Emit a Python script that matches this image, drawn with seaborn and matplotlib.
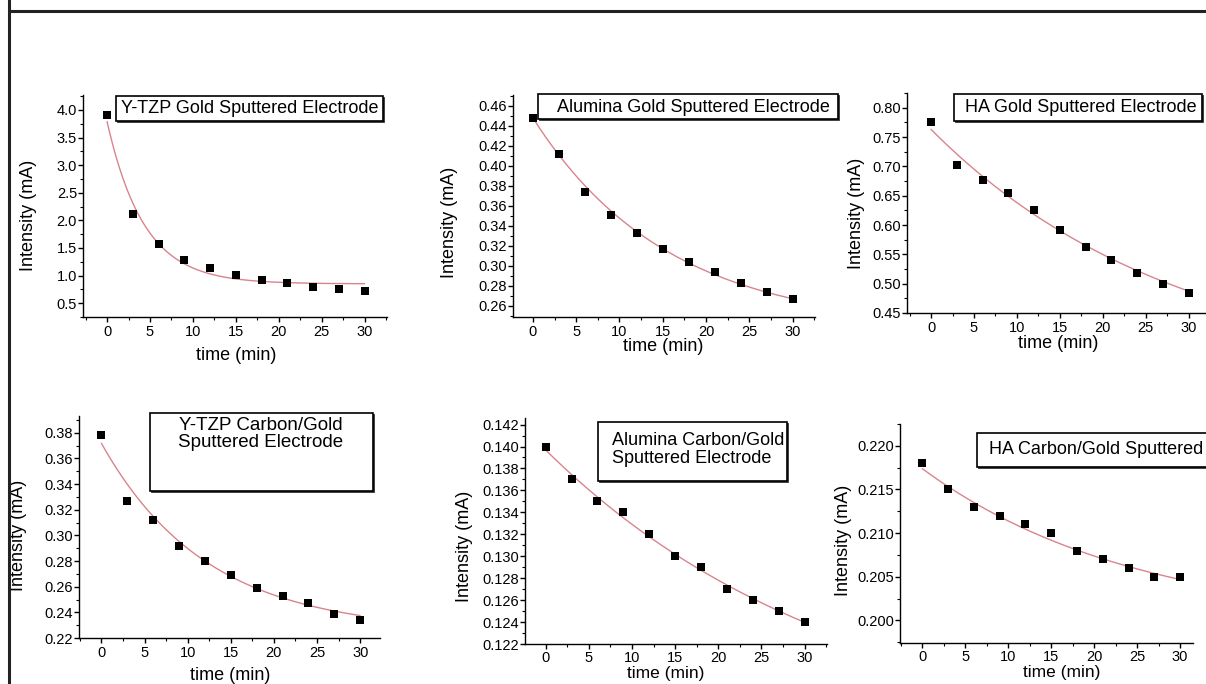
import numpy as np
import pandas as pd
import matplotlib
matplotlib.use("Agg")
import matplotlib.pyplot as plt
import seaborn as sns
from matplotlib.ticker import AutoMinorLocator, FormatStrFormatter
from matplotlib.patches import Rectangle
from matplotlib.lines import Line2D

# ---------------- data ----------------
time_min = [0, 3, 6, 9, 12, 15, 18, 21, 24, 27, 30]

ytzp_gold = [3.90, 2.12, 1.57, 1.28, 1.13, 1.01, 0.92, 0.86, 0.80, 0.76, 0.72]
alumina_gold = [0.448, 0.412, 0.374, 0.351, 0.333, 0.317, 0.304, 0.294, 0.283, 0.274, 0.267]
ha_gold = [0.776, 0.702, 0.677, 0.655, 0.626, 0.591, 0.563, 0.541, 0.519, 0.500, 0.484]
ytzp_carbon_gold = [0.378, 0.327, 0.312, 0.292, 0.280, 0.269, 0.259, 0.253, 0.247, 0.239, 0.234]
alumina_carbon_gold = [0.140, 0.137, 0.135, 0.134, 0.132, 0.130, 0.129, 0.127, 0.126, 0.125, 0.124]
ha_carbon_gold = [0.218, 0.215, 0.213, 0.212, 0.211, 0.210, 0.208, 0.207, 0.206, 0.205, 0.205]

# exponential-decay fit curves y = y0 + A*exp(-t/t1), parameters
fit_y0 = [0.85, 0.236, 0.336, 0.2248, 0.1123, 0.1992]
fit_A = [2.94, 0.212, 0.427, 0.1469, 0.02738, 0.01818]
fit_t1 = [4.3, 15.6, 28.9, 12.25, 35.2, 25.0]

panel_titles = [
    "Y-TZP Gold Sputtered Electrode",
    "Alumina Gold Sputtered Electrode",
    "HA Gold Sputtered Electrode",
    "Y-TZP Carbon/Gold\nSputtered Electrode",
    "Alumina Carbon/Gold\nSputtered Electrode",
    "HA Carbon/Gold Sputtered",
]
x_label = "time (min)"
y_label = "Intensity (mA)"
x_ticks = [0, 5, 10, 15, 20, 25, 30]

y_tick_start = [0.5, 0.26, 0.45, 0.22, 0.122, 0.200]
y_tick_stop = [4.0, 0.46, 0.80, 0.38, 0.142, 0.220]
y_tick_step = [0.5, 0.02, 0.05, 0.02, 0.002, 0.005]
y_tick_fmt = ["%.1f", "%.2f", "%.2f", "%.2f", "%.3f", "%.3f"]

series = [ytzp_gold, alumina_gold, ha_gold, ytzp_carbon_gold, alumina_carbon_gold, ha_carbon_gold]

# ---------------- layout (pixels) ----------------
W, H = 1206, 684
rects = [(83, 387, 95, 317), (513, 815, 95, 317), (907, 1211, 93, 313),
         (79, 380, 416, 638), (525, 827, 418, 644), (900, 1193, 424, 643)]
xlims = [(-2.8, 32.6), (-2.3, 32.6), (-2.8, 32.6), (-2.6, 32.3), (-2.4, 32.6), (-2.6, 31.5)]
ylims = [(0.25, 4.27), (0.2487, 0.471), (0.45, 0.825), (0.22, 0.393), (0.122, 0.1426), (0.1974, 0.2225)]
ylabel_pos = [(37, 215), (458, 222), (865, 213), (27, 535), (473, 546), (852, 540)]  # right edge x, center y
xlabel_pos = [(236, 347), (663, 338), (1058, 335), (230, 667), (666, 666), (1062, 665)]  # center x, top y
xlabel_size = [13, 13, 13, 13, 12.5, 12.5]
xtick_pad = [2.5, 2.5, 2.5, 2.0, 1.2, 1.2]
boxes = [(116, 383, 96, 121), (538, 838, 94, 119), (954, 1202, 94, 121),
         (150, 373, 413, 491), (598, 787, 422, 481), (977, 1212, 433, 467)]
box_text = [(250, 108.5, "center", 13), (693, 107, "center", 13), (1081, 108, "center", 13),
            (261, 434, "center", 13.5), (612, 449.5, "left", 13), (989, 450, "left", 13)]
box_linespacing = [1.1, 1.1, 1.1, 1.0, 1.1, 1.1]

sns.set_theme(style="ticks")
plt.rcParams["font.family"] = ["Liberation Sans", "DejaVu Sans"]
plt.rcParams["axes.linewidth"] = 1.0

fig = plt.figure(figsize=(W / 100, H / 100), dpi=100)
fig.patch.set_facecolor("white")


def fx(px):
    return px / W


def fy(py):
    return 1 - py / H


for i in range(6):
    L, R, T, B = rects[i]
    ax = fig.add_axes([fx(L), fy(B), (R - L) / W, (B - T) / H])
    ax.set_facecolor("white")
    df = pd.DataFrame({"t": time_min, "I": series[i]})
    tt = np.linspace(0, 30, 200)
    fit_df = pd.DataFrame({"t": tt, "I": fit_y0[i] + fit_A[i] * np.exp(-tt / fit_t1[i])})
    sns.lineplot(data=fit_df, x="t", y="I", ax=ax, color="#d9848c", lw=1.0, zorder=2)
    sns.scatterplot(data=df, x="t", y="I", ax=ax, marker="s", s=26, color="black",
                    edgecolor="black", linewidth=0, zorder=3)
    ax.set_xticks(x_ticks)
    ax.xaxis.set_minor_locator(AutoMinorLocator(2))
    yt = np.round(np.arange(y_tick_start[i], y_tick_stop[i] + y_tick_step[i] / 2, y_tick_step[i]), 4)
    ax.set_yticks(yt)
    ax.yaxis.set_major_formatter(FormatStrFormatter(y_tick_fmt[i]))
    ax.yaxis.set_minor_locator(AutoMinorLocator(2))
    ax.set_xlim(*xlims[i])
    ax.set_ylim(*ylims[i])
    sns.despine(ax=ax)
    for s in ["left", "bottom"]:
        ax.spines[s].set_color("black")
        ax.spines[s].set_linewidth(1.0)
    ax.tick_params(axis="both", which="major", direction="out", length=3.5, width=1.0,
                   colors="black", labelsize=10.5)
    ax.tick_params(axis="both", which="minor", direction="out", length=2, width=0.8, colors="black")
    ax.tick_params(axis="y", which="major", pad=0.8)
    ax.tick_params(axis="x", which="major", pad=xtick_pad[i])
    ax.grid(False)

    ax.set_xlabel(x_label, fontsize=xlabel_size[i], color="black")
    ax.set_ylabel(y_label, fontsize=13, color="black")
    lx, ly = ylabel_pos[i]
    ax.yaxis.set_label_coords((lx - L) / (R - L), (B - ly) / (B - T))
    cx, cy = xlabel_pos[i]
    ax.xaxis.set_label_coords((cx - L) / (R - L), (B - cy) / (B - T))

# annotation boxes
for i in range(6):
    x0, x1, y0, y1 = boxes[i]
    shadow = Rectangle((fx(x0) + 1.0 / W, fy(y1) - 1.0 / H), (x1 - x0) / W, (y1 - y0) / H,
                       transform=fig.transFigure, facecolor="#333333", edgecolor="#333333", lw=0.6,
                       zorder=5)
    box = Rectangle((fx(x0), fy(y1)), (x1 - x0) / W, (y1 - y0) / H,
                    transform=fig.transFigure, facecolor="white", edgecolor="black", lw=1.2,
                    zorder=6)
    fig.add_artist(shadow)
    fig.add_artist(box)
    tx, ty, ha, fs = box_text[i]
    fig.text(fx(tx), fy(ty), panel_titles[i], ha=ha, va="center", fontsize=fs,
             color="black", linespacing=box_linespacing[i], zorder=7)

# outer frame lines
fig.add_artist(Line2D([fx(8.5), 1.0], [fy(10.5), fy(10.5)], transform=fig.transFigure,
                      color="#222222", lw=2.2))
fig.add_artist(Line2D([fx(8.5), fx(8.5)], [0.0, 1.0], transform=fig.transFigure,
                      color="#222222", lw=2.2))

fig.savefig("out.png", dpi=100, facecolor="white")
